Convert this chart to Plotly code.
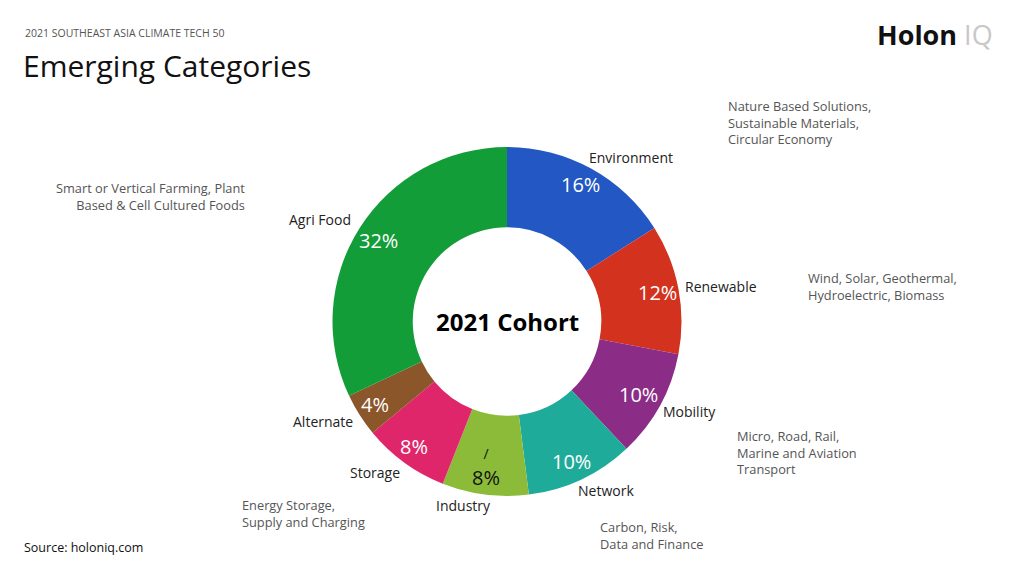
import plotly.graph_objects as go

W, H = 1024, 572
FONT = "Open Sans"

# data
categories = ["Environment", "Renewable", "Mobility", "Network",
              "Industry", "Storage", "Alternate", "Agri Food"]
shares = [16, 12, 10, 10, 8, 8, 4, 32]
colors = ["#2357c3", "#d3321f", "#8b2d86", "#1fab99",
          "#8cbb39", "#e0266a", "#8b5629", "#129d38"]
pct_colors = ["white", "white", "white", "white", "#111111", "white", "white", "white"]
descriptions = {
    "Environment": "Nature Based Solutions,<br>Sustainable Materials,<br>Circular Economy",
    "Renewable": "Wind, Solar, Geothermal,<br>Hydroelectric, Biomass",
    "Mobility": "Micro, Road, Rail,<br>Marine and Aviation<br>Transport",
    "Network": "Carbon, Risk,<br>Data and Finance",
    "Storage": "Energy Storage,<br>Supply and Charging",
    "Agri Food": "Smart or Vertical Farming, Plant<br>Based & Cell Cultured Foods",
}


def pos(x, y):
    # pixel -> paper
    return x / W, 1 - y / H


# pixel layout of the text around the ring
name_xy = {
    "Environment": (631, 157), "Renewable": (721, 286), "Mobility": (689, 411),
    "Network": (606, 490), "Industry": (463, 505), "Storage": (375, 473),
    "Alternate": (323, 421), "Agri Food": (320, 220),
}
pct_xy = {
    "Environment": (580, 184), "Renewable": (657, 292), "Mobility": (638, 394),
    "Network": (571, 461), "Industry": (486, 467), "Storage": (414, 446),
    "Alternate": (375, 404), "Agri Food": (378, 240),
}
desc_xy = {
    "Environment": (726, 123, "left"), "Renewable": (806, 286, "left"),
    "Mobility": (735, 452, "left"), "Network": (598, 535, "left"),
    "Storage": (240, 513, "left"), "Agri Food": (247, 196, "right"),
}

cx, cy, r = 507, 321.5, 174.5
fig = go.Figure(go.Pie(
    labels=categories,
    values=shares,
    sort=False,
    direction="clockwise",
    rotation=0,
    hole=0.54,
    marker=dict(colors=colors, line=dict(width=0)),
    textinfo="none",
    showlegend=False,
    domain=dict(x=[(cx - r) / W, (cx + r) / W], y=[1 - (cy + r) / H, 1 - (cy - r) / H]),
))

ann = []


def add(text, x, y, size, color, xanchor="center", align="center"):
    px_, py_ = pos(x, y)
    ann.append(dict(text=text, x=px_, y=py_, xref="paper", yref="paper",
                    xanchor=xanchor, yanchor="middle", align=align, showarrow=False,
                    font=dict(family=FONT, size=size, color=color)))


for cat, val, pc in zip(categories, shares, pct_colors):
    add(cat, *name_xy[cat], 14, "#222222")
    txt = f"{val}%"
    if cat == "Industry":
        txt = "<span style='font-size:14px'>/</span><br>" + txt
    add(txt, *pct_xy[cat], 20, pc)

for cat, text in descriptions.items():
    x, y, al = desc_xy[cat]
    add(text, x, y, 12.8, "#555555", xanchor=al, align=al)

add("<b>2021 Cohort</b>", cx, cy, 24, "#000000")
add("2021 SOUTHEAST ASIA CLIMATE TECH 50", 23, 33, 10.5, "#555555", xanchor="left", align="left")
add("Emerging Categories", 21, 65, 30, "#111111", xanchor="left", align="left")
add("Source: holoniq.com", 22, 547, 12.5, "#111111", xanchor="left", align="left")
add("<b>Holon</b> <span style='color:#c8c8c8'>IQ</span>", 995, 34, 27, "#111111",
    xanchor="right", align="right")

fig.update_layout(
    width=W, height=H,
    margin=dict(l=0, r=0, t=0, b=0),
    paper_bgcolor="white",
    plot_bgcolor="white",
    annotations=ann,
)

fig.write_html("out.html", config={"displayModeBar": False},
               post_script="document.body.style.margin='0';")
